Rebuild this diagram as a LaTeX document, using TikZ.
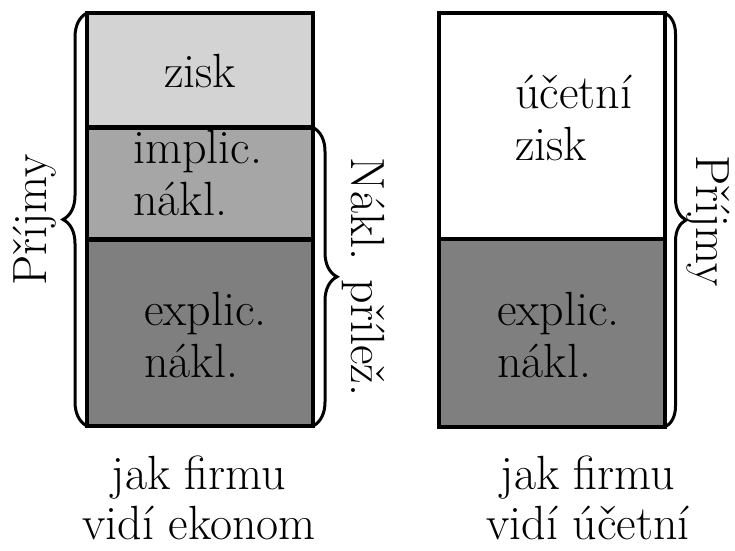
\documentclass[tikz,border=0pt]{standalone}
\usetikzlibrary{decorations.pathreplacing}
\definecolor{profitgray}{RGB}{211,211,211}
\definecolor{implgray}{RGB}{166,166,166}
\definecolor{explgray}{RGB}{127,127,127}
\newcommand{\stackl}[1]{\begin{tabular}[t]{@{}l@{}}#1\end{tabular}}
\begin{document}
\begin{tikzpicture}[x=1pt,y=1pt,
  boxline/.style={line width=4.5pt, line join=miter},
  lbl/.style={inner sep=0pt, font=\fontsize{48}{52}\selectfont},
  caption/.style={inner sep=0pt, font=\fontsize{48}{50}\selectfont, align=center, text depth=0pt, anchor=south},
  bracedec/.style={decorate, decoration={brace, amplitude=#1}, line width=3pt}]
\useasboundingbox (0,0) rectangle (735,550);
% left column corners
\coordinate (LTL) at (87,537);
\coordinate (LTR) at (313,537);
\coordinate (LD1L) at (87,422.5);
\coordinate (LD1R) at (313,422.5);
\coordinate (LD2L) at (87,310.5);
\coordinate (LD2R) at (313,310.5);
\coordinate (LBL) at (87,124);
\coordinate (LBR) at (313,124);
% right column corners
\coordinate (RTL) at (439,537);
\coordinate (RTR) at (665,537);
\coordinate (RDL) at (439,311);
\coordinate (RDR) at (665,311);
\coordinate (RBL) at (439,123);
\coordinate (RBR) at (665,123);
% fills
\fill[profitgray] (LD1L) rectangle (LTR);
\fill[implgray] (LD2L) rectangle (LD1R);
\fill[explgray] (LBL) rectangle (LD2R);
\fill[explgray] (RBL) rectangle (RDR);
% outlines
\draw[boxline] (LBL) rectangle (LTR);
\draw[boxline] (LD1L) -- (LD1R);
\draw[boxline] (LD2L) -- (LD2R);
\draw[boxline] (RBL) rectangle (RTR);
\draw[boxline] (RDL) -- (RDR);
% braces
\draw[bracedec=24] (LBL) -- (LTL);
\draw[bracedec=24] (LD1R) -- (LBR);
\draw[bracedec=21] (RTR) -- (RBR);
% box texts
\node[lbl, anchor=base] (zisk) at (200,462) {zisk};
\node[lbl, anchor=base west] (impl) at (133,387) {\stackl{implic.\\nákl.}};
\node[lbl, anchor=base west] (expl) at (144,225) {\stackl{explic.\\nákl.}};
\node[lbl, anchor=base west] (uzisk) at (515,442) {\stackl{účetní\\zisk}};
\node[lbl, anchor=base west] (rexpl) at (497,225) {\stackl{explic.\\nákl.}};
% side labels
\node[lbl, rotate=90] (prl) at (35,330) {Příjmy};
\node[lbl, rotate=-90] (npr) at (364,273) {Nákl. přílež.};
\node[lbl, rotate=-90] (prr) at (708,329) {Příjmy};
% bottom captions
\node[caption] (capl) at (199,10) {jak firmu\\vidí ekonom};
\node[caption] (capr) at (588,10) {jak firmu\\vidí účetní};
\end{tikzpicture}
\end{document}
